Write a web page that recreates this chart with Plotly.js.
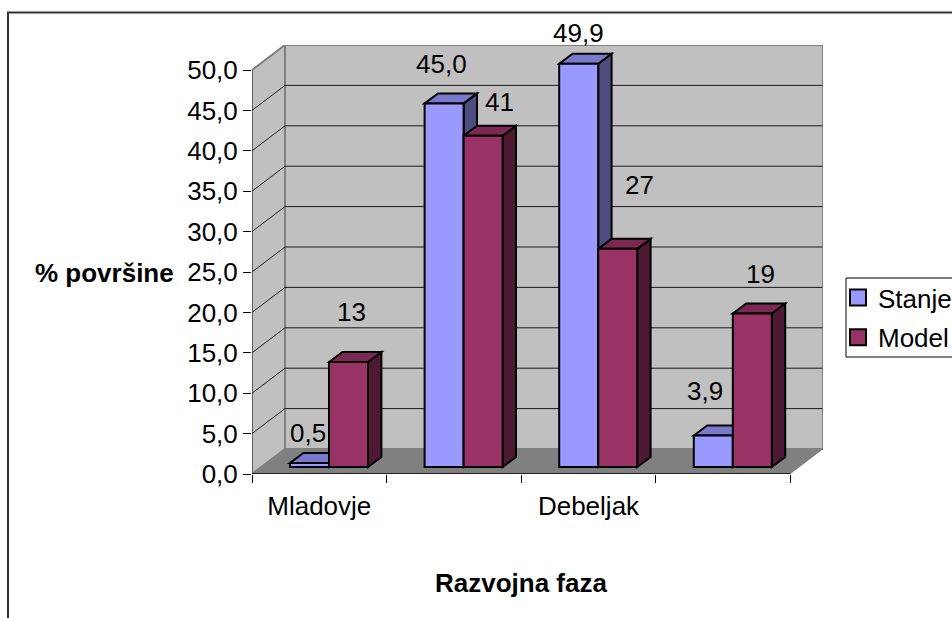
<!DOCTYPE html>
<html>
<head>
<meta charset="utf-8">
<script src="https://cdn.plot.ly/plotly-3.0.1.min.js"></script>
<style>html,body{margin:0;padding:0;background:#fff;overflow:hidden}</style>
</head>
<body>
<div id="chart" style="width:952px;height:618px"></div>
<script>
// ---- data ----
var categories = ['Mladovje', '', 'Debeljak', ''];
var seriesNames = ['Stanje', 'Model'];
var stanje = [0.5, 45.0, 49.9, 3.9];
var model = [13, 41, 27, 19];
var yTicks = [0, 5, 10, 15, 20, 25, 30, 35, 40, 45, 50];

// ---- hand placed data label nudges, in px ----
var stanjeLabelShiftX = [-2, -3, 0, -8];
var stanjeLabelShiftY = [30, 39, 31, 44];
var modelLabelShiftX = [3, 16, 22, 8];
var modelLabelShiftY = [50, 34, 64, 39];

// ---- frame geometry ----
var W = 952, H = 618;
var L = 252, R = 823, T = 45, B = 474;
var pxPerCat = 134.6, pxPerUnit = 8.08;
var xMax = (R - L) / pxPerCat, yMax = (B - T) / pxPerUnit;
var wallDx = 33 / pxPerCat, wallDy = 25 / pxPerUnit;
var barDx = 13.4 / pxPerCat, barDy = 10 / pxPerUnit;
var barBase = 7 / pxPerUnit;
var barW = 39 / pxPerCat;
var barLeft = 38 / pxPerCat;
var font = 'Liberation Sans, Arial, sans-serif';
var fs = 26;

var colors = {
  Stanje: {front: '#9999ff', top: '#7a7acc', side: '#4d4d80'},
  Model: {front: '#993366', top: '#7a2952', side: '#4d1933'}
};

function poly(pts) {
  return 'M' + pts.map(function (p) { return p[0] + ',' + p[1]; }).join('L') + 'Z';
}
function pxX(p) { return (p - L) / (R - L); }
function pxY(p) { return (B - p) / (B - T); }

var shapes = [];
// walls and floor
shapes.push({type: 'path', xref: 'x', yref: 'y', layer: 'below', line: {width: 0}, fillcolor: '#808080',
  path: poly([[0, 0], [categories.length, 0], [categories.length + wallDx, wallDy], [wallDx, wallDy]])});
shapes.push({type: 'path', xref: 'x', yref: 'y', layer: 'below', line: {color: '#808080', width: 2}, fillcolor: '#c0c0c0',
  path: poly([[wallDx, wallDy], [xMax, wallDy], [xMax, 50 + wallDy], [wallDx, 50 + wallDy]])});
shapes.push({type: 'path', xref: 'x', yref: 'y', layer: 'below', line: {color: '#808080', width: 2}, fillcolor: '#c0c0c0',
  path: poly([[0, 0], [wallDx, wallDy], [wallDx, 50 + wallDy], [0, 50]])});
// gridlines on the walls
yTicks.slice(1, -1).forEach(function (v) {
  shapes.push({type: 'path', xref: 'x', yref: 'y', layer: 'below', line: {color: '#1a1a1a', width: 1},
    path: 'M0,' + v + 'L' + wallDx + ',' + (v + wallDy) + 'L' + (xMax - 0.005) + ',' + (v + wallDy)});
});
// axis lines
shapes.push({type: 'line', xref: 'x', yref: 'y', layer: 'below', x0: 0, x1: 0, y0: 0, y1: 50, line: {color: '#404040', width: 1}});
shapes.push({type: 'line', xref: 'x', yref: 'y', layer: 'below', x0: 0, x1: categories.length, y0: 0, y1: 0, line: {color: '#000', width: 1.5}});
// outer chart border (bottom and right are cut by the picture)
shapes.push({type: 'path', xref: 'paper', yref: 'paper', layer: 'below', line: {color: '#333', width: 2},
  path: 'M' + pxX(8) + ',' + pxY(H + 5) + 'L' + pxX(8) + ',' + pxY(12.5) + 'L' + pxX(W + 5) + ',' + pxY(12.5)});
// legend box, open at the cut right edge
shapes.push({type: 'path', xref: 'paper', yref: 'paper', layer: 'below', line: {color: '#000', width: 1}, fillcolor: '#fff',
  path: 'M' + pxX(W + 5) + ',' + pxY(278) + 'L' + pxX(846) + ',' + pxY(278) + 'L' + pxX(846) + ',' + pxY(357) + 'L' + pxX(W + 5) + ',' + pxY(357)});

var xIdx = categories.map(function (c, i) { return i; });
function centers(k) {
  return xIdx.map(function (i) { return i + barLeft + k * barW + barW / 2; });
}
var xS = centers(0), xM = centers(1);

// top and side faces of each bar, built from its value
function faces(name, xs, vals) {
  vals.forEach(function (v, i) {
    var x0 = xs[i] - barW / 2, x1 = xs[i] + barW / 2, y1 = barBase + v, y0 = barBase;
    shapes.push({type: 'path', xref: 'x', yref: 'y', layer: 'below', fillcolor: colors[name].side,
      line: {color: '#000', width: 2},
      path: poly([[x1, y0], [x1 + barDx, y0 + barDy], [x1 + barDx, y1 + barDy], [x1, y1]])});
    shapes.push({type: 'path', xref: 'x', yref: 'y', layer: 'below', fillcolor: colors[name].top,
      line: {color: '#000', width: 2},
      path: poly([[x0, y1], [x0 + barDx, y1 + barDy], [x1 + barDx, y1 + barDy], [x1, y1]])});
  });
}
faces('Stanje', xS, stanje);
faces('Model', xM, model);

function barTrace(name, xs, vals) {
  return {type: 'bar', name: name, x: xs, y: vals, base: barBase, width: barW, showlegend: false,
    marker: {color: colors[name].front, line: {color: '#000', width: 2}}, hoverinfo: 'name+y'};
}
function legendTrace(name) {
  return {type: 'scatter', mode: 'markers', name: name, legendgroup: name, x: [null], y: [null],
    marker: {symbol: 'square', size: 16, color: colors[name].front, line: {color: '#000', width: 2}}};
}
var traces = [
  barTrace('Stanje', xS, stanje),
  barTrace('Model', xM, model),
  legendTrace('Stanje'),
  legendTrace('Model')
];

var annotations = [];
function labels(xs, vals, texts, sx, sy) {
  vals.forEach(function (v, i) {
    annotations.push({x: xs[i], y: barBase + v, text: texts[i], showarrow: false, xanchor: 'center', yanchor: 'middle',
      xshift: sx[i], yshift: sy[i], font: {family: font, size: fs, color: '#000'}});
  });
}
labels(xS, stanje, stanje.map(function (v) { return v.toFixed(1).replace('.', ','); }), stanjeLabelShiftX, stanjeLabelShiftY);
labels(xM, model, model.map(String), modelLabelShiftX, modelLabelShiftY);
annotations.push({xref: 'paper', yref: 'paper', x: pxX(104), y: pxY(273), text: '<b>% površine</b>', showarrow: false,
  xanchor: 'center', yanchor: 'middle', font: {family: font, size: fs, color: '#000'}});
annotations.push({xref: 'paper', yref: 'paper', x: pxX(520.5), y: pxY(583), text: '<b>Razvojna faza</b>', showarrow: false,
  xanchor: 'center', yanchor: 'middle', font: {family: font, size: fs, color: '#000'}});

var layout = {
  width: W, height: H, autosize: false,
  margin: {l: L, r: W - R, t: T, b: H - B, pad: 0, autoexpand: false},
  paper_bgcolor: '#fff', plot_bgcolor: 'rgba(0,0,0,0)',
  separators: ',.',
  barmode: 'overlay',
  showlegend: true,
  font: {family: font, size: fs, color: '#000'},
  xaxis: {
    range: [0, xMax], showgrid: false, zeroline: false, showline: false,
    tickmode: 'array', tickvals: xIdx.map(function (i) { return i + 0.5; }), ticktext: categories,
    ticks: '', ticklabelstandoff: 14, tickangle: 0,
    tickfont: {family: font, size: fs, color: '#000'},
    minor: {tickmode: 'array', tickvals: xIdx.concat([categories.length]), ticks: 'outside', ticklen: 8, tickwidth: 1, tickcolor: '#000', showgrid: false}
  },
  yaxis: {
    range: [0, yMax], showgrid: false, zeroline: false, showline: false,
    tickmode: 'array', tickvals: yTicks, tickformat: '.1f',
    ticks: 'outside', ticklen: 8, tickwidth: 1, tickcolor: '#000',
    tickfont: {family: font, size: fs, color: '#000'}
  },
  legend: {
    x: pxX(843), y: pxY(274), xanchor: 'left', yanchor: 'top',
    bgcolor: 'rgba(0,0,0,0)', borderwidth: 0,
    indentation: -5, traceorder: 'grouped', tracegroupgap: 3,
    font: {family: font, size: fs, color: '#000'}
  },
  shapes: shapes,
  annotations: annotations
};
Plotly.newPlot('chart', traces, layout, {displayModeBar: false, staticPlot: true});
</script>
</body>
</html>
